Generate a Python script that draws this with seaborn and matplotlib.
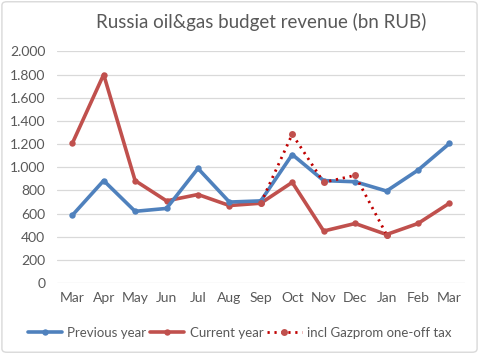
import numpy as np
import pandas as pd
import matplotlib
matplotlib.use("Agg")
import matplotlib.pyplot as plt
import seaborn as sns
from matplotlib.patches import FancyBboxPatch
from matplotlib.ticker import FuncFormatter, MultipleLocator

# values (bn RUB)
months = ["Mar", "Apr", "May", "Jun", "Jul", "Aug", "Sep",
          "Oct", "Nov", "Dec", "Jan", "Feb", "Mar"]
previous_year = [585, 885, 620, 645, 990, 700, 710, 1110, 885, 875, 795, 975, 1205]
current_year = [1205, 1800, 885, 710, 765, 670, 690, 870, 450, 515, 420, 515, 690]
incl_gazprom = [np.nan, np.nan, np.nan, np.nan, np.nan, np.nan, 690,
                1285, 870, 930, 420, np.nan, np.nan]

sns.set_theme(style="white")
plt.rcParams["font.family"] = ["Lato", "DejaVu Sans"]

text_gray = "#595959"
grid_gray = "#D9D9D9"
blue = "#4F81BD"
red = "#C0504D"
dark_red = "#C00000"

df = pd.DataFrame({
    "idx": np.arange(len(months)),
    "prev": previous_year,
    "curr": current_year,
    "gaz": incl_gazprom,
})

fig = plt.figure(figsize=(4.79, 3.54), dpi=100)
ax = fig.add_axes([0.118, 0.2, 0.853, 0.655])

sns.lineplot(data=df, x="idx", y="gaz", ax=ax, color=dark_red, linewidth=2.0,
             linestyle=(0, (0.8, 1.7)), marker="o", markersize=5,
             markerfacecolor=red, markeredgecolor=red, markeredgewidth=0,
             label="incl Gazprom one-off tax", zorder=4)
sns.lineplot(data=df, x="idx", y="curr", ax=ax, color=red, linewidth=2.6,
             marker="o", markersize=4.6, markeredgewidth=0,
             label="Current year", zorder=3)
sns.lineplot(data=df, x="idx", y="prev", ax=ax, color=blue, linewidth=2.6,
             marker="o", markersize=4.6, markeredgewidth=0,
             label="Previous year", zorder=3)

ax.set_xlim(-0.5, len(months) - 0.5)
ax.set_ylim(0, 2000)
ax.yaxis.set_major_locator(MultipleLocator(200))
ax.yaxis.set_major_formatter(FuncFormatter(lambda v, p: f"{int(v):,}".replace(",", ".")))
ax.set_xticks(range(len(months)))
ax.set_xticklabels(months)
ax.set_xlabel("")
ax.set_ylabel("")
ax.grid(axis="y", color=grid_gray, linewidth=0.9)
ax.set_axisbelow(True)
for s in ax.spines.values():
    s.set_visible(False)
ax.tick_params(axis="both", length=0, labelsize=10, colors=text_gray, pad=6)
ax.tick_params(axis="y", pad=8)

ax.set_title("Russia oil&gas budget revenue (bn RUB)", fontsize=13.5,
             color=text_gray, pad=17)

handles, labels = ax.get_legend_handles_labels()
order = [labels.index("Previous year"), labels.index("Current year"),
         labels.index("incl Gazprom one-off tax")]
ax.legend([handles[i] for i in order], [labels[i] for i in order],
          loc="center", bbox_to_anchor=(0.5, 0.06), bbox_transform=fig.transFigure,
          ncol=3, frameon=False, fontsize=9.5, handlelength=2.6,
          handletextpad=0.4, columnspacing=0.3, labelcolor=text_gray)

border = FancyBboxPatch((0.004, 0.005), 0.992, 0.99, boxstyle="round,pad=0,rounding_size=0.01",
                        transform=fig.transFigure, facecolor="none",
                        edgecolor=grid_gray, linewidth=1)
fig.patches.append(border)

fig.savefig("out.png", dpi=100)
